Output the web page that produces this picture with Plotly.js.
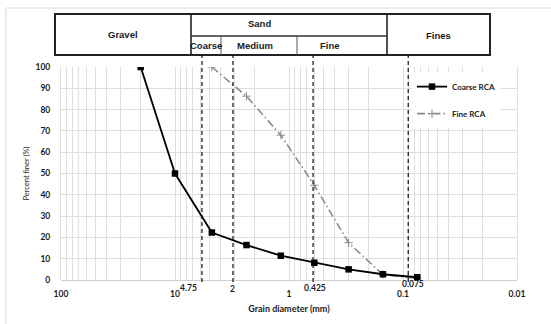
<!DOCTYPE html>
<html>
<head>
<meta charset="utf-8">
<script src="https://cdn.plot.ly/plotly-3.0.1.min.js"></script>
<style>
  html, body { margin: 0; padding: 0; background: #ffffff; }
  #chart { width: 551px; height: 324px; }
</style>
</head>
<body>
<div id="chart"></div>
<script>
// ---- data ----
const sieveSizes = [20, 10, 4.75, 2.36, 1.18, 0.6, 0.3, 0.15, 0.075];      // mm
const coarseRCA  = [100, 50, 22.3, 16.4, 11.4, 8.1, 5.0, 2.7, 1.3];       // % finer
const fineSizes  = [4.75, 2.36, 1.18, 0.6, 0.3, 0.15, 0.075];              // mm
const fineRCA    = [100, 86.3, 68, 44.5, 17.5, 2.5, 0.8];                  // % finer
const decadeLabels = ["100", "10", "1", "0.1", "0.01"];
const decadeValues = [100, 10, 1, 0.1, 0.01];
const boundaryLabels = ["4.75", "2", "0.425", "0.075"];
// where the reference draws its dashed boundary lines (mm)
const boundaryDrawnAt = [5.8, 3.1, 0.615, 0.09];
const headerTop = ["Gravel", "Sand", "Fines"];
const headerSand = ["Coarse", "Medium", "Fine"];

// ---- helpers ----
const LOGMAX = 2, LOGMIN = -2;   // axis runs from 100 (left) to 0.01 (right)
function paperX(v) { return (LOGMAX - Math.log10(v)) / (LOGMAX - LOGMIN); }

// tick values: every 1..9 x 10^k, labelled at decades only
const tickVals = [], tickText = [];
for (let k = 1; k >= -2; k--) {
  for (let m = 9; m >= 1; m--) {
    const v = +(m * Math.pow(10, k)).toPrecision(6);
    tickVals.push(v);
    const idx = decadeValues.indexOf(v);
    tickText.push(idx >= 0 ? decadeLabels[idx] : "");
  }
}
tickVals.unshift(100); tickText.unshift("100");
tickVals.push(0.01); tickText.push("0.01");

const plotL = 61, plotT = 67, plotW = 456, plotH = 213;
function px2paperX(px) { return (px - plotL) / plotW; }
function px2paperY(py) { return (plotT + plotH - py) / plotH; }

const FONT = "Lato, 'Liberation Sans', Arial, sans-serif";
const HFONT = "'Liberation Sans', Arial, sans-serif";
const INK = "#1a1a1a";
const GRID = "#dedede";

const traces = [
  {
    x: fineSizes, y: fineRCA, name: "Fine RCA", type: "scatter", mode: "lines+markers",
    line: { color: "#8c8c8c", width: 1.6, dash: "8px,3px,1.5px,3px" },
    marker: { symbol: "cross-thin", size: 6, color: "#8c8c8c", line: { color: "#8c8c8c", width: 1 } },
    legendrank: 2, legendgroup: "b"
  },
  {
    x: sieveSizes, y: coarseRCA, name: "Coarse RCA", type: "scatter", mode: "lines+markers",
    line: { color: "#000000", width: 1.8 },
    marker: { symbol: "square", size: 6.5, color: "#000000" },
    legendrank: 1, legendgroup: "a"
  }
];

const shapes = [];
const annotations = [];

// outer light frame (only top and left edges are inside the picture)
shapes.push({ type: "rect", xref: "paper", yref: "paper",
  x0: px2paperX(6), x1: px2paperX(600), y0: px2paperY(400), y1: px2paperY(8),
  line: { color: "#d9d9d9", width: 1 }, fillcolor: "rgba(0,0,0,0)", layer: "below" });

// header table
const tL = 55, tR = 490, tT = 14, tB = 55, tMid = 36;
const sandL = 191, sandR = 387, cm = 221, mf = 297;
shapes.push({ type: "rect", xref: "paper", yref: "paper",
  x0: px2paperX(tL), x1: px2paperX(tR), y0: px2paperY(tB), y1: px2paperY(tT),
  line: { color: "#222", width: 2 } });
[sandL, sandR].forEach(px => shapes.push({ type: "line", xref: "paper", yref: "paper",
  x0: px2paperX(px), x1: px2paperX(px), y0: px2paperY(tB), y1: px2paperY(tT),
  line: { color: "#222", width: 1.6 } }));
shapes.push({ type: "line", xref: "paper", yref: "paper",
  x0: px2paperX(sandL), x1: px2paperX(sandR), y0: px2paperY(tMid), y1: px2paperY(tMid),
  line: { color: "#333", width: 1.3 } });
[cm, mf].forEach(px => shapes.push({ type: "line", xref: "paper", yref: "paper",
  x0: px2paperX(px), x1: px2paperX(px), y0: px2paperY(tB), y1: px2paperY(tMid),
  line: { color: "#555", width: 1 } }));

const headerPos = { Gravel: [123, 34], Sand: [259, 24], Fines: [438, 35],
                    Coarse: [206, 45.5], Medium: [255, 45.5], Fine: [330, 46] };
headerTop.concat(headerSand).forEach(t => {
  const p = headerPos[t];
  annotations.push({ text: "<b>" + t + "</b>", xref: "paper", yref: "paper",
    x: px2paperX(p[0]), y: px2paperY(p[1]), xanchor: "center", yanchor: "middle",
    showarrow: false, font: { family: HFONT, size: 9.5, color: INK } });
});

// dashed boundary lines and their labels
const labelShift = [-13, 0, 2, 5];
const labelY = [288, 289, 288, 283.5];
boundaryDrawnAt.forEach((v, i) => {
  const xp = paperX(v);
  shapes.push({ type: "line", xref: "paper", yref: "paper",
    x0: xp, x1: xp, y0: px2paperY(282), y1: px2paperY(tB),
    line: { color: "#111", width: 1.2, dash: "4px,3px" } });
  annotations.push({ text: "<b>" + boundaryLabels[i] + "</b>", xref: "paper", yref: "paper",
    x: xp, y: px2paperY(labelY[i]), xshift: labelShift[i], xanchor: "center", yanchor: "middle",
    showarrow: false, font: { family: FONT, size: 8.5, color: INK } });
});

const layout = {
  width: 551, height: 324,
  margin: { l: plotL, r: 551 - plotL - plotW, t: plotT, b: 324 - plotT - plotH, pad: 0 },
  paper_bgcolor: "#ffffff", plot_bgcolor: "#ffffff",
  showlegend: true,
  legend: {
    x: px2paperX(412), y: 0.976, xanchor: "left", yanchor: "top",
    bgcolor: "#ffffff", borderwidth: 0, tracegroupgap: 8, itemwidth: 30,
    font: { family: FONT, size: 8, color: INK, weight: "bold" }
  },
  xaxis: {
    type: "log", range: [LOGMAX, LOGMIN], autorange: false,
    tickmode: "array", tickvals: tickVals, ticktext: tickText,
    showgrid: true, gridcolor: GRID, gridwidth: 1,
    showline: false, zeroline: false, ticks: "", ticklabelstandoff: 7,
    tickfont: { family: FONT, size: 8.5, color: INK, weight: "bold" },
    title: { text: "Grain diameter (mm)", standoff: 8,
             font: { family: FONT, size: 9, color: INK, weight: "bold" } }
  },
  yaxis: {
    range: [0, 100], autorange: false, dtick: 10,
    showgrid: true, gridcolor: GRID, gridwidth: 1,
    zeroline: true, zerolinecolor: "#d0d0d0", zerolinewidth: 1,
    showline: true, linecolor: GRID, linewidth: 1, mirror: true,
    ticks: "", ticklabelstandoff: 8,
    tickfont: { family: FONT, size: 8.5, color: INK, weight: "bold" },
    title: { text: "Percent finer (%)", standoff: 4,
             font: { family: FONT, size: 7.5, color: INK } }
  },
  shapes: shapes,
  annotations: annotations
};

Plotly.newPlot("chart", traces, layout, { staticPlot: true, displayModeBar: false });
</script>
</body>
</html>
